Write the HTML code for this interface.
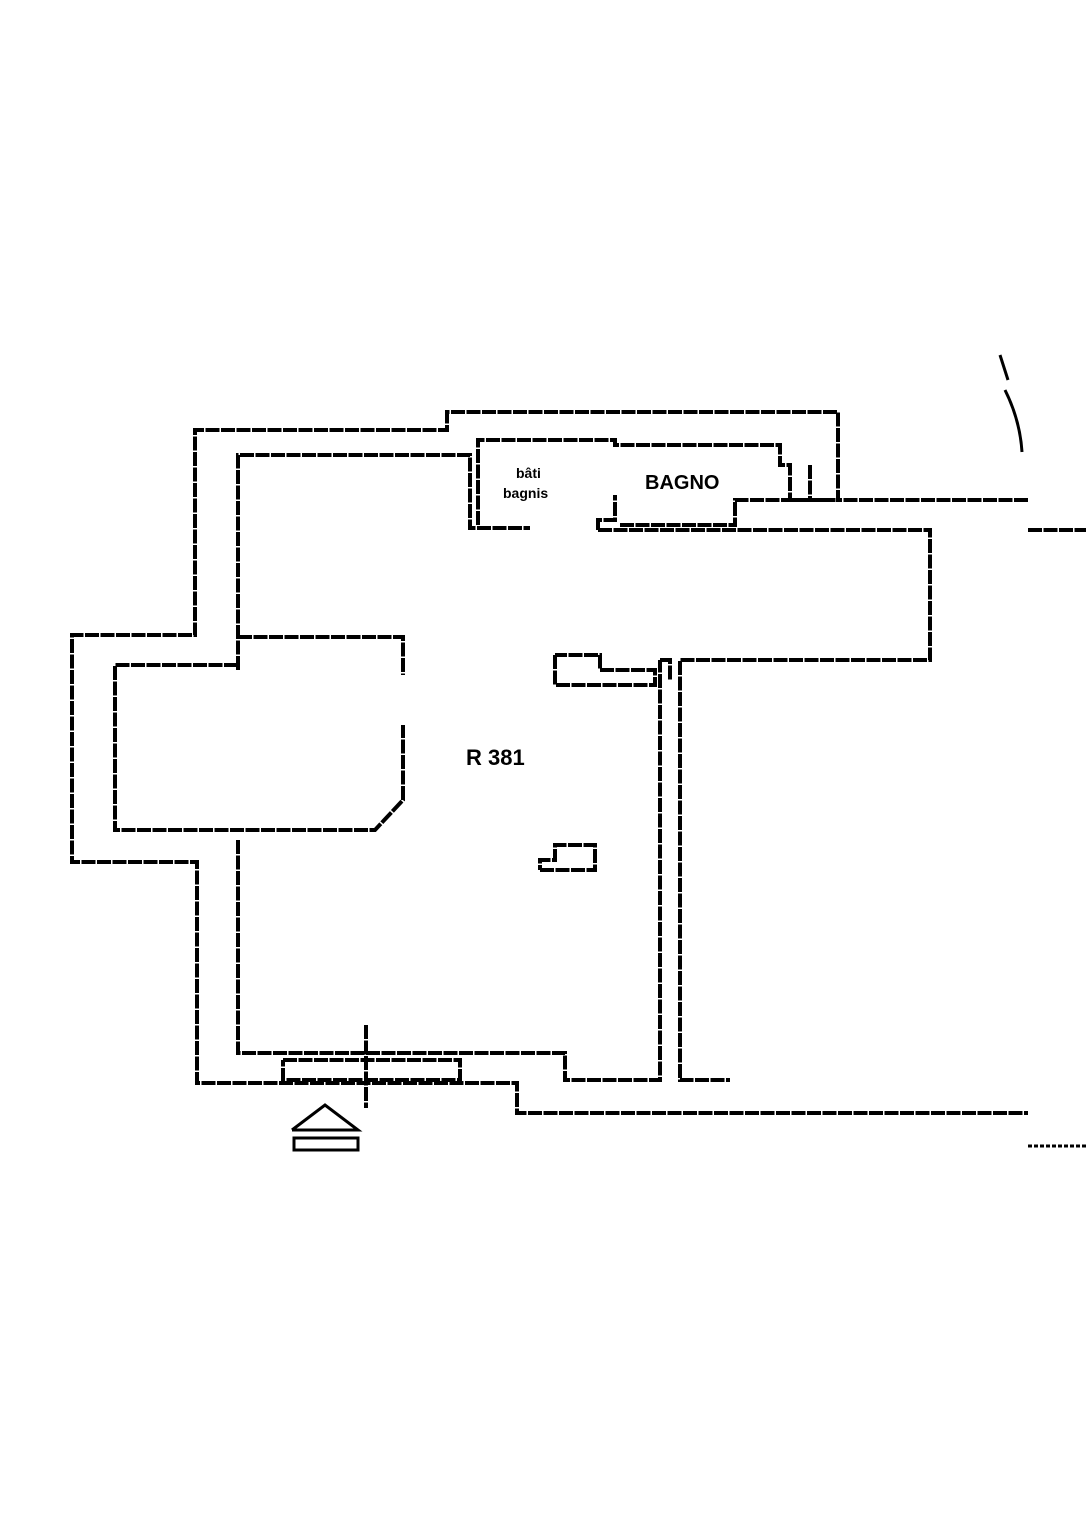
<!DOCTYPE html>
<html><head><style>body{margin:0;background:#fff}svg{display:block}</style></head><body>
<svg width="1086" height="1535" viewBox="0 0 1086 1535" xmlns="http://www.w3.org/2000/svg">
<g fill="none" stroke="#000" stroke-width="4" stroke-dasharray="14 1.5" stroke-linejoin="miter">
<polyline points="1028,500 838,500 838,412 447,412 447,430 195,430 195,635 72,635 72,862 197,862 197,1083 517,1083 517,1113 1028,1113"/>
<polyline points="1028,530 1086,530"/>
<polyline points="598,530 930,530 930,660 680,660 680,1080 730,1080"/>
<polyline points="238,670 238,455 470,455 470,528 530,528"/>
<polyline points="478,525 478,440 615,440 615,445 780,445 780,465 790,465 790,500 830,500"/>
<polyline points="598,530 598,520 615,520 615,495"/>
<polyline points="620,525 735,525 735,500 800,500"/>
<polyline points="238,637 403,637 403,675"/>
<polyline points="238,665 115,665 115,830 375,830 403,800 403,725"/>
<polyline points="238,840 238,1053 565,1053 565,1080 660,1080 660,660"/>
<polyline points="660,660 670,660 670,680"/>
<polyline points="555,655 555,685 655,685 655,670 600,670 600,655 555,655"/>
<polyline points="540,870 595,870 595,845 555,845 555,860 540,860 540,870"/>
<polyline points="283,1060 460,1060 460,1080 283,1080 283,1060"/>
<polyline points="366,1025 366,1108"/>
<polyline points="810,465 810,500 838,500"/>
</g>
<g fill="none" stroke="#000" stroke-width="3">
<polyline points="292,1130 325,1105 358,1130 292,1130"/>
<rect x="294" y="1138" width="64" height="12"/>
<path d="M1000,355 L1008,380 M1005,390 Q1020,420 1022,452"/>
<path d="M1028,1146 L1086,1146" stroke-dasharray="4 2"/>
</g>
<g font-family="Liberation Sans, sans-serif" font-weight="bold" fill="#000">
<text x="516" y="478" font-size="14">bâti</text>
<text x="503" y="498" font-size="14">bagnis</text>
<text x="645" y="489" font-size="20">BAGNO</text>
<text x="466" y="765" font-size="22">R 381</text>
</g>
</svg>
</body></html>
